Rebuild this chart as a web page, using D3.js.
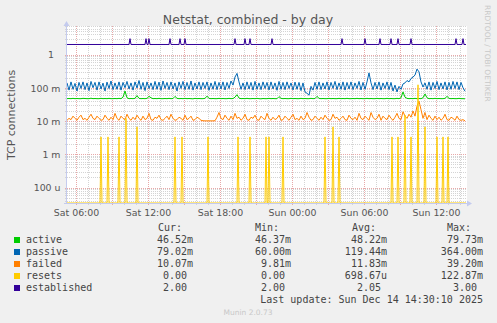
<!DOCTYPE html>
<html>
<head>
<meta charset="utf-8">
<script src="https://cdn.jsdelivr.net/npm/d3@7"></script>
<style>
body { margin: 0; background: #f0f0f0; }
</style>
</head>
<body>
<script>
var start = Date.UTC(2025, 11, 13, 5, 15)
var step = 5 * 60 * 1000
var samples = 400

var yTicks = [1, 0.1, 0.01, 0.001, 0.0001]
var yTickLabels = ["1", "100 m", "10 m", "1 m", "100 u"]
var yLimits = [3.42e-5, 7.2]

// dense series: one value every 10 minutes, in milli
var active = [
  47, 47.5, 47, 48, 47, 47.5, 47, 47, 48, 47.5,
  47, 47, 48.5, 47, 47.5, 47, 47, 48, 47, 47.5,
  47, 48, 47, 47, 47.5, 47, 48, 47, 52, 79.7,
  50, 47, 47.5, 47, 48, 58, 48, 47, 47.5, 47,
  48, 55, 50, 47, 47.5, 47, 48, 47, 47, 47.5,
  47, 48, 47, 47.5, 55, 48, 47, 47.5, 47, 48,
  47, 47.5, 47, 46.5, 48, 47, 47.5, 47, 47, 48,
  56, 48, 47, 47.5, 47, 47, 48, 47, 47.5, 47,
  47, 48, 47, 47.5, 52, 62, 49, 47, 47.5, 47,
  48, 47, 47, 47.5, 47, 48, 47, 46.5, 47.5, 47,
  47, 48, 47, 47.5, 47, 47, 54, 48, 47, 47.5,
  47, 47, 48, 47, 47.5, 47, 47, 48, 47, 47.5,
  47, 47, 48, 47, 47.5, 55, 48, 47, 47.5, 47,
  47, 48, 47, 47.5, 47, 47, 48, 47, 47.5, 47,
  48, 47, 47, 47.5, 47, 48, 47, 47.5, 47, 47,
  48, 47, 47.5, 47, 47, 48, 47, 47.5, 47, 47,
  48, 47, 47.5, 47, 47, 48, 47, 50, 75, 52,
  48, 47, 47.5, 47, 48, 47, 47.5, 47, 50, 65,
  50, 47, 47.5, 47, 48, 47, 47.5, 47, 47, 48,
  55, 48, 47, 47.5, 47, 47, 48, 47, 47, 46.52
]
var passive = [
  140, 85, 150, 90, 135, 80, 145, 95, 150, 88,
  140, 82, 155, 100, 145, 85, 150, 92, 138, 80,
  148, 95, 160, 88, 140, 90, 150, 85, 145, 100,
  155, 92, 140, 85, 150, 98, 165, 90, 145, 82,
  150, 95, 140, 88, 155, 90, 148, 84, 160, 95,
  145, 88, 150, 92, 140, 80, 150, 95, 155, 88,
  145, 90, 160, 85, 140, 92, 150, 88, 145, 95,
  150, 84, 140, 90, 155, 88, 145, 92, 150, 86,
  145, 95, 160, 120, 210, 270, 150, 90, 140, 88,
  150, 92, 145, 85, 155, 90, 140, 88, 150, 95,
  145, 86, 150, 92, 140, 84, 155, 90, 145, 88,
  150, 95, 140, 86, 148, 90, 145, 82, 140, 75,
  68, 60, 110, 85, 145, 90, 150, 88, 140, 92,
  150, 86, 145, 95, 155, 88, 140, 90, 150, 85,
  145, 92, 150, 88, 140, 95, 155, 86, 145, 90,
  150, 280, 140, 88, 145, 92, 150, 85, 140, 95,
  150, 88, 145, 80, 120, 75, 110, 90, 130, 140,
  165, 150, 190, 210, 240, 364, 300, 150, 105, 140,
  90, 150, 85, 145, 95, 155, 88, 140, 92, 150,
  86, 145, 90, 155, 95, 150, 88, 145, 100, 79.02
]
var failed = [
  10.5, 12, 11, 14, 12, 10.5, 13, 15, 11, 12,
  10.5, 13, 16, 12, 11, 14, 12, 10.5, 11, 15,
  12, 10.5, 13, 11, 17, 12, 10.5, 14, 12, 11,
  16, 12, 10.5, 13, 11, 15, 12, 10.5, 14, 11,
  12, 17, 11, 10.5, 13, 12, 15, 11, 10.5, 12,
  14, 11, 16, 12, 10.5, 11, 13, 12, 10.5, 15,
  11, 12, 14, 10.5, 11, 13, 12, 10.5, 10.2, 10.1,
  10.1, 10.1, 10.1, 10.1, 10.2, 13, 18, 12, 11, 15,
  12, 10.5, 14, 11, 17, 12, 13, 10.5, 12, 16,
  11, 10.5, 13, 12, 15, 11, 10.5, 14, 12, 11,
  17, 12, 10.5, 13, 11, 12, 15, 10.5, 11, 14,
  12, 10.5, 13, 16, 11, 12, 10.5, 14, 11, 12,
  18, 13, 10.5, 11, 14, 12, 10.5, 13, 11, 15,
  12, 10.5, 11, 16, 12, 13, 10.5, 12, 14, 11,
  10.5, 15, 12, 11, 13, 10.5, 17, 12, 11, 14,
  12, 10.5, 18, 13, 11, 12, 16, 10.5, 14, 12,
  11, 15, 12, 10.5, 13, 17, 12, 11, 19, 14,
  12, 16, 13, 20, 14, 28, 39.2, 22, 12, 18,
  11, 15, 12, 10.5, 14, 11, 13, 10.5, 12, 16,
  11, 10.5, 13, 12, 10.5, 14, 11, 10.5, 11, 10.07
]

// sparse series: sample index in 5 minute steps
var resetIdx = [34, 41, 52, 59, 70, 108, 115, 141, 171, 183, 199, 202, 216,
  258, 266, 272, 325, 331, 338, 344, 351, 358, 370, 376, 381]
var resetVal = [3.33, 3.33, 3.33, 12, 6.67, 3.33, 3.33, 3.33, 3.33, 3.33, 3.33, 3.33, 3.33,
  3.33, 6.67, 3.33, 3.33, 3.33, 15, 3.33, 122.87, 6.67, 3.33, 3.33, 3.33]
var establishedBase = 2
var establishedPeakIdx = [63, 79, 82, 103, 113, 118, 168, 178, 183, 205, 275,
  298, 313, 324, 331, 344, 389, 396]
var establishedPeak = 3

var legendNames = ["active", "passive", "failed", "resets", "established"]
var legendCur = ["46.52m", "79.02m", "10.07m", "0.00", "2.00"]
var legendMin = ["46.37m", "60.00m", "9.81m", "0.00", "2.00"]
var legendAvg = ["48.22m", "119.44m", "11.83m", "698.67u", "2.05"]
var legendMax = ["79.73m", "364.00m", "39.20m", "122.87m", "3.00"]
var legendHead = ["Cur:", "Min:", "Avg:", "Max:"]

var colors = ["#00CC00", "#0066B3", "#FF8000", "#FFCC00", "#330099"]

var W = 497, H = 323
var plotL = 67, plotR = 467, plotT = 26, plotB = 203

var svg = d3.select("body").append("svg")
  .attr("width", W).attr("height", H)
  .style("font-family", "DejaVu Sans, sans-serif")

svg.append("rect").attr("width", W).attr("height", H).attr("fill", "#f0f0f0")
svg.append("rect").attr("x", plotL).attr("y", plotT)
  .attr("width", plotR - plotL).attr("height", plotB - plotT).attr("fill", "#fff")

var end = start + samples * step
var x = d3.scaleUtc().domain([new Date(start), new Date(end)]).range([plotL, plotR])
var y = d3.scaleLog().domain(yLimits).range([plotB, plotT]).clamp(true)

// grid
var grid = svg.append("g").attr("stroke-dasharray", "1,1").attr("stroke-width", 1)
y.ticks().forEach(function(v) {
  var major = Math.abs(Math.log10(v) - Math.round(Math.log10(v))) < 1e-9
  var yy = Math.round(y(v)) + 0.5
  grid.append("line").attr("x1", plotL - 2).attr("x2", plotR).attr("y1", yy).attr("y2", yy)
    .attr("stroke", major ? "#e8a8a8" : "#d4d4d4")
})
d3.utcHour.range(new Date(start), new Date(end)).forEach(function(t) {
  var major = t.getUTCHours() % 3 == 0
  var xx = Math.round(x(t)) + 0.5
  grid.append("line").attr("x1", xx).attr("x2", xx).attr("y1", plotT).attr("y2", plotB + 2)
    .attr("stroke", major ? "#e8a8a8" : "#d4d4d4")
})

// series
function dense(arr) {
  return arr.map(function(v, i) { return {t: start + i * 2 * step, v: v / 1000} })
}
var resets = d3.range(samples).map(function(i) { return {t: start + i * step, v: 0} })
resetIdx.forEach(function(k, j) { resets[k].v = resetVal[j] / 1000 })
var established = d3.range(samples).map(function(i) { return {t: start + i * step, v: establishedBase} })
establishedPeakIdx.forEach(function(k) { established[k].v = establishedPeak })

var line = d3.line()
  .x(function(d) { return x(new Date(d.t)) })
  .y(function(d) { return y(Math.max(d.v, yLimits[0])) })

var series = [dense(active), dense(passive), dense(failed), resets, established]
svg.append("g").selectAll("path")
  .data(series).enter()
  .append("path")
  .attr("d", line)
  .attr("fill", "none")
  .attr("stroke", function(d, i) { return colors[i] })
  .attr("stroke-width", 1)

// axes
var axisColor = "#c4cbee"
svg.append("line").attr("x1", plotL - 0.5).attr("x2", plotL - 0.5).attr("y1", plotB + 1).attr("y2", plotT - 1)
  .attr("stroke", axisColor)
svg.append("line").attr("x1", plotL - 3).attr("x2", plotR + 1).attr("y1", plotB + 0.5).attr("y2", plotB + 0.5)
  .attr("stroke", axisColor)
svg.append("path").attr("d", "M" + (plotL - 3.5) + "," + plotT + "L" + (plotL - 0.5) + "," + (plotT - 5) + "L" + (plotL + 2.5) + "," + plotT + "Z")
  .attr("fill", axisColor)
svg.append("path").attr("d", "M" + plotR + "," + (plotB - 2.5) + "L" + (plotR + 5) + "," + (plotB + 0.5) + "L" + plotR + "," + (plotB + 3.5) + "Z")
  .attr("fill", axisColor)

var xAxis = svg.append("g").attr("transform", "translate(0," + plotB + ")")
  .call(d3.axisBottom(x).ticks(d3.utcHour.every(6)).tickFormat(d3.utcFormat("%a %H:%M")).tickSize(0))
xAxis.select(".domain").remove()
xAxis.selectAll("text").attr("y", 13).attr("dy", null)
  .attr("fill", "#555").style("font-size", "9.4px").style("font-family", "DejaVu Sans, sans-serif")

var yAxis = svg.append("g").attr("transform", "translate(" + plotL + ",0)")
  .call(d3.axisLeft(y).tickValues(yTicks).tickFormat(function(d, i) { return yTickLabels[i] }).tickSize(0))
yAxis.select(".domain").remove()
yAxis.selectAll("text")
  .attr("x", function(d, i) { return yTickLabels[i].indexOf(" ") < 0 ? -13 : -6.5 })
  .attr("dy", "0.35em")
  .attr("fill", "#555").style("font-size", "9.4px").style("font-family", "DejaVu Sans, sans-serif")

// titles
svg.append("text").attr("x", 248).attr("y", 23.5).attr("text-anchor", "middle")
  .attr("fill", "#555").style("font-size", "12.5px")
  .text("Netstat, combined - by day")
svg.append("text").attr("transform", "translate(15,115) rotate(-90)").attr("text-anchor", "middle")
  .attr("fill", "#555").style("font-size", "11px")
  .text("TCP connections")
svg.append("text").attr("transform", "translate(484.5,5) rotate(90)")
  .attr("fill", "#c8c8c8").style("font-size", "7.5px")
  .text("RRDTOOL / TOBI OETIKER")
svg.append("text").attr("x", 248).attr("y", 315).attr("text-anchor", "middle")
  .attr("fill", "#c8c8c8").style("font-size", "7.5px")
  .text("Munin 2.0.73")

// legend
var mono = "DejaVu Sans Mono, monospace"
var headX = [158, 255, 352, 447]
svg.selectAll("text.head")
  .data(legendHead).enter()
  .append("text").attr("class", "head")
  .attr("x", function(d, i) { return headX[i] })
  .attr("y", 231)
  .attr("fill", "#444").style("font-family", mono).style("font-size", "10px")
  .text(function(d) { return d })

var colRight = [193, 291, 387, 483]
var cols = [legendCur, legendMin, legendAvg, legendMax]
legendNames.forEach(function(name, r) {
  var by = 243 + r * 12
  svg.append("rect").attr("x", 14).attr("y", by - 6).attr("width", 6).attr("height", 6)
    .attr("fill", colors[r])
  svg.append("text").attr("x", 26).attr("y", by)
    .attr("fill", "#444").style("font-family", mono).style("font-size", "10px")
    .text(name)
  cols.forEach(function(col, c) {
    var s = col[r]
    var unitless = /[0-9]$/.test(s)
    svg.append("text").attr("x", colRight[c] - (unitless ? 6 : 0)).attr("y", by)
      .attr("text-anchor", "end")
      .attr("fill", "#444").style("font-family", mono).style("font-size", "10px")
      .text(s)
  })
})
svg.append("text").attr("x", 483).attr("y", 303).attr("text-anchor", "end")
  .attr("fill", "#444").style("font-family", mono).style("font-size", "10px")
  .text("Last update: Sun Dec 14 14:30:10 2025")
</script>
</body>
</html>
